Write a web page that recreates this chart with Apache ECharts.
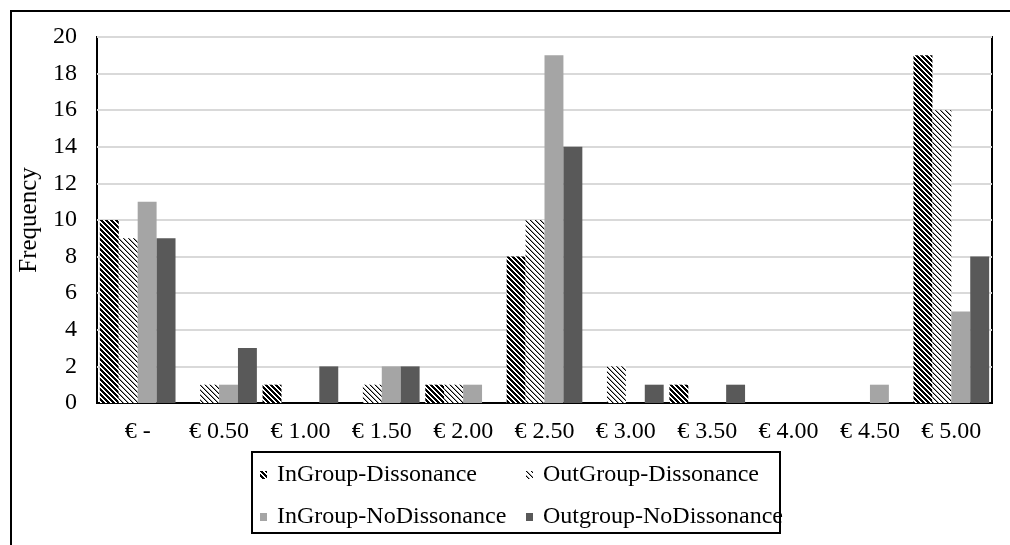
<!DOCTYPE html>
<html>
<head>
<meta charset="utf-8">
<script src="https://cdn.jsdelivr.net/npm/echarts@6/dist/echarts.min.js"></script>
<style>
html,body{margin:0;padding:0;background:#fff;}
#chart{width:1010px;height:545px;}
</style>
</head>
<body>
<div id="chart"></div>
<script>
const categories = ['€ -', '€ 0.50', '€ 1.00', '€ 1.50', '€ 2.00', '€ 2.50', '€ 3.00', '€ 3.50', '€ 4.00', '€ 4.50', '€ 5.00'];
const seriesNames = ['InGroup-Dissonance', 'OutGroup-Dissonance', 'InGroup-NoDissonance', 'Outgroup-NoDissonance'];
const inGroupDissonance = [10, 0, 1, 0, 1, 8, 0, 1, 0, 0, 19];
const outGroupDissonance = [9, 1, 0, 1, 1, 10, 2, 0, 0, 0, 16];
const inGroupNoDissonance = [11, 1, 0, 2, 1, 19, 0, 0, 0, 1, 5];
const outgroupNoDissonance = [9, 3, 2, 2, 0, 14, 1, 1, 0, 0, 8];
const yTicks = {min: 0, max: 20, interval: 2};

function makePattern(dark) {
  const n = 5;
  const c = document.createElement('canvas');
  c.width = n; c.height = n;
  const ctx = c.getContext('2d');
  ctx.fillStyle = '#fff';
  ctx.fillRect(0, 0, n, n);
  for (let y = 0; y < n; y++) {
    for (let x = 0; x < n; x++) {
      const d = ((x - y) % n + n) % n;
      let col = null;
      if (dark) {
        if (d < 3) col = '#000';
      } else {
        if (d === 0) col = '#000';
        else if (d === 1) col = '#9a9a9a';
      }
      if (col) {
        ctx.fillStyle = col;
        ctx.fillRect(x, y, 1, 1);
      }
    }
  }
  return {image: c, repeat: 'repeat'};
}

const font = 'Liberation Serif';
const colors = [makePattern(true), makePattern(false), '#a5a5a5', '#595959'];
const dataSets = [inGroupDissonance, outGroupDissonance, inGroupNoDissonance, outgroupNoDissonance];

const chart = echarts.init(document.getElementById('chart'), null, {renderer: 'canvas'});
const legendText = {fontFamily: font, fontSize: 24, color: '#000', width: 235, lineHeight: 26, padding: [0, 0, 0, 5]};
chart.setOption({
  animation: false,
  backgroundColor: '#fff',
  grid: {left: 97, right: 18, top: 37, bottom: 142, show: true, borderColor: '#000', borderWidth: 2, backgroundColor: 'transparent'},
  xAxis: {
    type: 'category',
    data: categories,
    axisLine: {lineStyle: {color: '#000', width: 2}},
    axisTick: {show: false},
    axisLabel: {fontFamily: font, fontSize: 24, color: '#000', margin: 17}
  },
  yAxis: {
    type: 'value',
    min: yTicks.min, max: yTicks.max, interval: yTicks.interval,
    name: 'Frequency',
    nameLocation: 'middle',
    nameRotate: 90,
    nameGap: 54,
    nameTextStyle: {fontFamily: font, fontSize: 25, color: '#000'},
    axisLine: {show: false},
    axisTick: {show: false},
    axisLabel: {fontFamily: font, fontSize: 24, color: '#000', margin: 20},
    splitLine: {lineStyle: {color: '#d9d9d9', width: 2}}
  },
  legend: [
    {data: [seriesNames[0], seriesNames[1]], left: 260, top: 462, itemWidth: 7, itemHeight: 8, itemGap: 14, padding: 0, icon: 'rect', textStyle: legendText},
    {data: [seriesNames[2], seriesNames[3]], left: 260, top: 504, itemWidth: 7, itemHeight: 8, itemGap: 14, padding: 0, icon: 'rect', textStyle: legendText}
  ],
  graphic: [
    {type: 'rect', shape: {x: 11, y: 11, width: 1100, height: 600}, style: {fill: 'none', stroke: '#000', lineWidth: 2}, silent: true},
    {type: 'rect', shape: {x: 252, y: 452, width: 528, height: 81}, style: {fill: 'none', stroke: '#000', lineWidth: 2}, silent: true}
  ],
  series: seriesNames.map((n, i) => ({
    name: n,
    type: 'bar',
    data: dataSets[i],
    barGap: '0%',
    barCategoryGap: '7%',
    itemStyle: {color: colors[i]}
  }))
});
</script>
</body>
</html>
